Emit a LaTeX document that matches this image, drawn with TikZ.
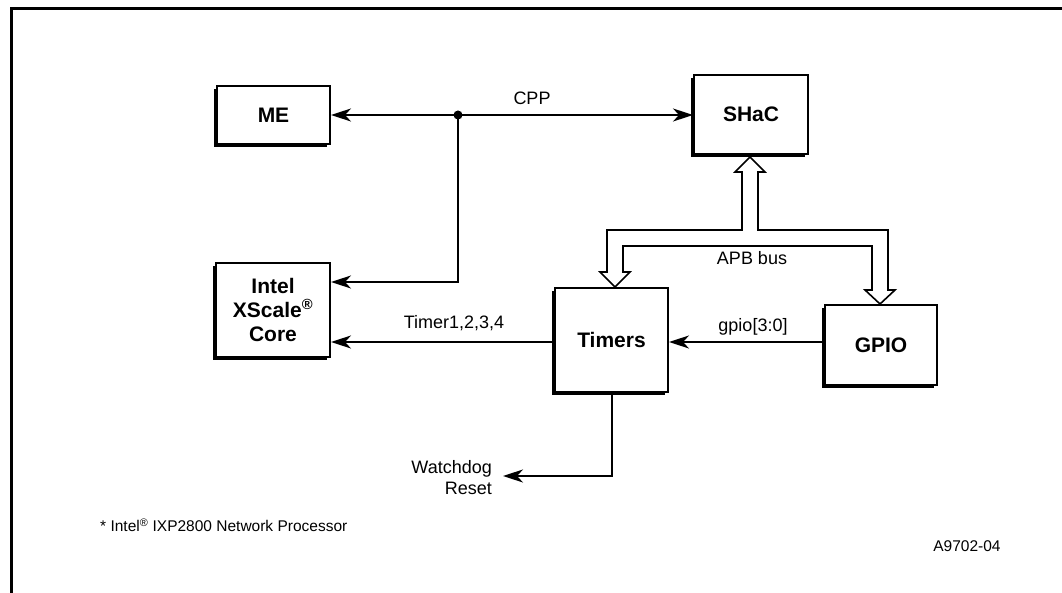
\documentclass[tikz,border=0pt]{standalone}
\usepackage{fontspec}
\setmainfont{Liberation Sans}
\usetikzlibrary{arrows.meta,shadows,calc}
\begin{document}
\begin{tikzpicture}[x=1pt,y=-1pt,
  box/.style={draw,line width=2pt,fill=white,font=\fontsize{21}{24}\selectfont\bfseries,align=center,inner sep=0pt,
    general shadow={fill=black,shadow xshift=-3pt,shadow yshift=-3pt}},
  lbl/.style={font=\fontsize{18}{21}\selectfont,inner sep=0pt},
  note/.style={font=\fontsize{15.5}{19}\selectfont,inner sep=0pt},
  conn/.style={line width=2pt,-{Stealth[length=20pt,width=13pt,inset=6pt]}},
  frame/.style={line width=3pt},
  bus/.style={line width=1.6pt,fill=white,line join=miter}
]
\useasboundingbox (0,0) rectangle (1062,593);
\draw[frame] (1062,9) -- (11,9) -- (11,593);

% boxes
\node[box,minimum width=113pt,minimum height=58pt] (me) at (273.5,115) {ME};
\node[box,minimum width=114pt,minimum height=94pt] (xs) at (273,310) {Intel\\XScale\textsuperscript{®}\\Core};
\node[box,minimum width=114pt,minimum height=79pt] (shac) at (751,114.5) {SHaC};
\node[box,minimum width=113pt,minimum height=104pt] (tim) at (611.5,340) {Timers};
\node[box,minimum width=112pt,minimum height=80pt] (gpio) at (881,345) {GPIO};

% CPP
\coordinate (j) at (458,115);
\coordinate (cppL) at (0,282);
\coordinate (tl) at (0,342);
\coordinate (wd) at (503,476);
\draw[conn] (j) -- (me.east |- j);
\draw[conn] (j) -- (shac.west |- j);
\draw[conn] (j) |- (xs.east |- cppL);
\fill (j) circle (4.5);
\node[lbl] (cpp) at (532,98) {CPP};

% Timer lines
\draw[conn] (tim.west |- tl) -- (xs.east |- tl);
\node[lbl] (tlab) at (454,323) {Timer1,2,3,4};
\draw[conn] (gpio.west |- tl) -- (tim.east |- tl);
\node[lbl] (glab) at (753,327) {gpio[3:0]};
\draw[conn] (tim.south) |- (wd);
\node[lbl,anchor=east,align=right] (wdl) at (492,478) {Watchdog\\Reset};

% APB bus hollow arrows
\draw[bus] (750,157) -- (765,172) -- (758,172) -- (758,230) -- (888,230) -- (888,290)
  -- (895,290) -- (880,304) -- (865,290) -- (872,290) -- (872,246) -- (623,246)
  -- (623,272) -- (630,272) -- (615,287) -- (600,272) -- (607,272) -- (607,230)
  -- (742,230) -- (742,172) -- (735,172) -- cycle;
\node[lbl] (apb) at (752,258) {APB bus};

% footnotes
\node[note,anchor=west] (fn) at (100,525) {* Intel\textsuperscript{®} IXP2800 Network Processor};
\node[note] (id) at (967,546) {A9702-04};
\end{tikzpicture}
\end{document}
